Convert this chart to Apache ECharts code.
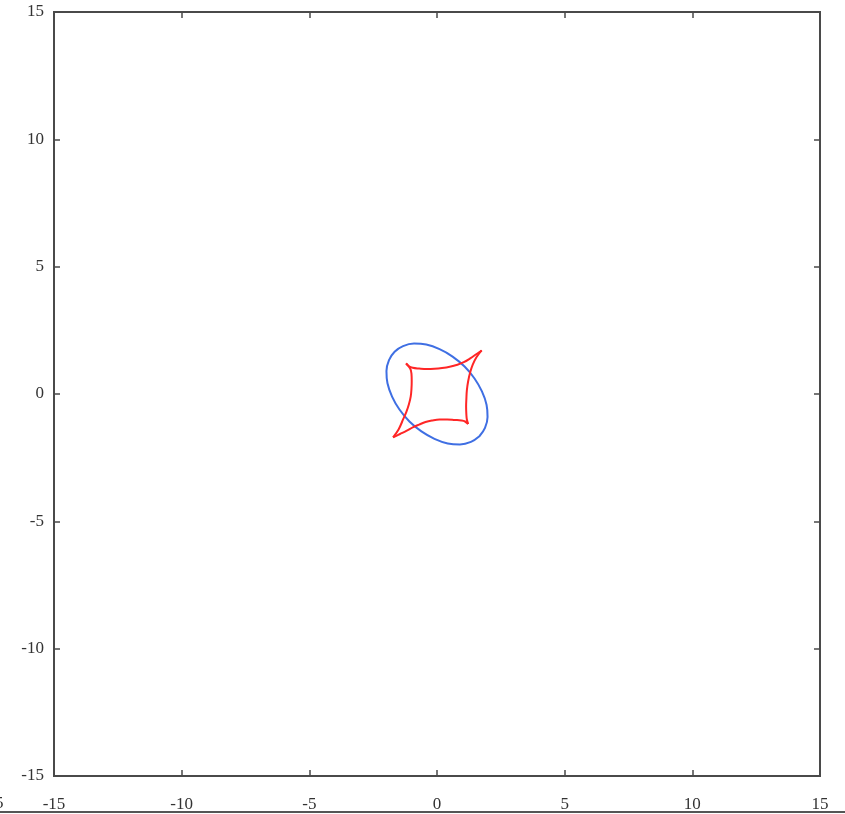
<!DOCTYPE html>
<html>
<head>
<meta charset="utf-8">
<script src="https://cdn.jsdelivr.net/npm/echarts@6/dist/echarts.min.js"></script>
<style>
  html, body { margin: 0; padding: 0; background: #fff; }
  #chart { width: 845px; height: 814px; }
</style>
</head>
<body>
<div id="chart"></div>
<script>
// Axis range and tick step (both axes)
const axisMin = -15;
const axisMax = 15;
const tickStep = 5;

// Blue ellipse, closed loop of [x, y] points
const ellipsePts = [
  [1.66, -1.66], [1.88, -1.33], [1.98, -0.90], [1.94, -0.42], [1.76, 0.10],
  [1.47, 0.61], [1.08, 1.08], [0.61, 1.47], [0.10, 1.76], [-0.42, 1.94],
  [-0.90, 1.98], [-1.33, 1.88], [-1.66, 1.66], [-1.88, 1.33], [-1.98, 0.90],
  [-1.94, 0.42], [-1.76, -0.10], [-1.47, -0.61], [-1.08, -1.08], [-0.61, -1.47],
  [-0.10, -1.76], [0.42, -1.94], [0.90, -1.98], [1.33, -1.88], [1.66, -1.66]
];

// Red four-cusped curve, one array per arc between cusps
const redTop = [
  [-1.21, 1.20], [-1.10, 1.09], [-0.95, 1.03], [-0.70, 1.00], [-0.40, 0.98],
  [-0.10, 0.99], [0.20, 1.02], [0.50, 1.07], [0.80, 1.15], [1.05, 1.25],
  [1.30, 1.40], [1.52, 1.55], [1.75, 1.71]
];
const redRight = [
  [1.75, 1.71], [1.55, 1.45], [1.40, 1.15], [1.30, 0.85], [1.22, 0.50],
  [1.17, 0.15], [1.15, -0.20], [1.14, -0.50], [1.15, -0.80], [1.17, -1.00],
  [1.22, -1.18]
];
const redBottom = [
  [1.22, -1.18], [1.10, -1.08], [0.95, -1.04], [0.70, -1.02], [0.40, -1.00],
  [0.10, -1.00], [-0.20, -1.04], [-0.45, -1.10], [-0.70, -1.20], [-0.93, -1.30],
  [-1.20, -1.45], [-1.45, -1.57], [-1.72, -1.70]
];
const redLeft = [
  [-1.72, -1.70], [-1.50, -1.38], [-1.32, -0.98], [-1.20, -0.70], [-1.10, -0.40],
  [-1.03, -0.10], [-1.00, 0.20], [-0.99, 0.50], [-1.00, 0.80], [-1.05, 1.00],
  [-1.21, 1.20]
];

const frameColor = '#4a4a4a';
const labelFont = { fontFamily: 'Liberation Serif', fontSize: 17, color: '#333' };
const tickStyle = { show: true, inside: true, length: 6, lineStyle: { color: frameColor, width: 1.5 } };

function mainAxis(pos, isX) {
  return {
    type: 'value', position: pos, min: axisMin, max: axisMax, interval: tickStep,
    axisLine: { show: false, onZero: false },
    splitLine: { show: false },
    axisTick: tickStyle,
    axisLabel: Object.assign({ show: true, margin: isX ? 20 : 10 }, labelFont)
  };
}
function mirrorAxis(pos) {
  return {
    type: 'value', position: pos, min: axisMin, max: axisMax, interval: tickStep,
    axisLine: { show: false, onZero: false },
    splitLine: { show: false },
    axisTick: tickStyle,
    axisLabel: { show: false }
  };
}

function curve(pts, color) {
  return {
    type: 'line', data: pts, showSymbol: false, smooth: 0.4,
    lineStyle: { color: color, width: 2 }, xAxisIndex: 0, yAxisIndex: 0,
    animation: false, silent: true
  };
}

const chart = echarts.init(document.getElementById('chart'), null, { renderer: 'canvas' });
chart.setOption({
  animation: false,
  backgroundColor: '#fff',
  grid: {
    left: 54, top: 12, right: 25, bottom: 38,
    show: true, borderColor: frameColor, borderWidth: 2, backgroundColor: 'transparent'
  },
  xAxis: [mainAxis('bottom', true), mirrorAxis('top')],
  yAxis: [mainAxis('left', false), mirrorAxis('right')],
  series: [
    curve(ellipsePts, '#3f6fe3'),
    curve(redTop, '#ff2626'),
    curve(redRight, '#ff2626'),
    curve(redBottom, '#ff2626'),
    curve(redLeft, '#ff2626')
  ],
  graphic: [
    { type: 'text', left: -5, top: 795, style: { text: '5', font: '17px "Liberation Serif"', fill: '#333' } },
    { type: 'rect', left: 0, top: 811, shape: { width: 845, height: 2 }, style: { fill: '#555' } }
  ]
});
</script>
</body>
</html>
